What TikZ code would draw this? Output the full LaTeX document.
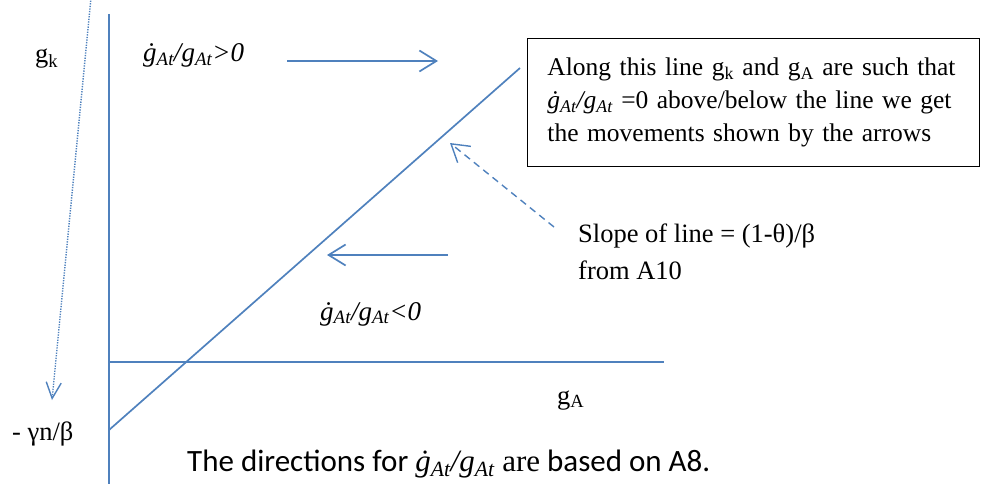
\documentclass[tikz,border=0pt]{standalone}
\usepackage{fontspec}
\setmainfont{Liberation Serif}
\newfontfamily\calibri{Carlito}
\usetikzlibrary{arrows.meta}
\definecolor{lineblue}{HTML}{4F81BD}
\newcommand{\gdot}{\textit{ġ\textsubscript{At}/g\textsubscript{At}}}
\tikzset{
	barb/.tip={Straight Barb[length=17pt, width=21pt]},
	small barb/.tip={Straight Barb[length=16pt, width=15pt]},
	blueline/.style={lineblue, line width=1.7pt},
	dashline/.style={lineblue, line width=1.4pt, dash pattern=on 7pt off 5pt},
	dotline/.style={lineblue, line width=1.4pt, dash pattern=on 1.3pt off 1.3pt},
	txt/.style={inner sep=0pt, anchor=base west, font=\fontsize{26.5}{37}\selectfont},
	ratio/.style={txt, font=\fontsize{27}{33}\selectfont\itshape}
}

\begin{document}
\begin{tikzpicture}[x=1pt, y=-1pt]
	\useasboundingbox (0,0) rectangle (981,484);
	% Axes
	\coordinate (ytop) at (109,14);
	\coordinate (ybot) at (109,484);
	\coordinate (xleft) at (109,362);
	\coordinate (xright) at (664,362);
	\draw[blueline] (ytop) -- (ybot);
	\draw[blueline] (xleft) -- (xright);
	
	% The line where the ratio is zero
	\coordinate (lstart) at (109,430);
	\coordinate (lend) at (520,68);
	\draw[blueline] (lstart) -- (lend);
	
	% Labels
	\node[txt] (gk) at (35,63) {g\textsubscript{k}};
	\node[txt] (gA) at (557,404) {g\textsubscript{A}};
	\node[txt] (intercept) at (12,440) {- γn/β};
	\node[ratio] (above) at (143,62) {\gdot>0};
	\node[ratio] (below) at (320,320) {\gdot<0};
	\node[txt, align=left] (slope) at (578,279) {Slope of line = (1-θ)/β\\from A10};
	\node[draw, line width=0.9pt, anchor=north west, minimum width=452pt, minimum height=128pt,
		text width=412pt, inner xsep=20pt, align=left, font=\fontsize{25.5}{33}\selectfont] (note) at (527,38)
		{Along this line g\textsubscript{k} and g\textsubscript{A} are such that \gdot{} =0 above/below the line we get the movements shown by the arrows};
	\node[txt, font=\fontsize{31}{34}\calibri] (remark) at (187,471)
		{The directions for {\rmfamily\gdot{} are} based on A8.};
	
	% Arrows
	\coordinate (up from) at (287,61);
	\coordinate (up to) at (438,61);
	\coordinate (down from) at (448,255);
	\coordinate (down to) at (327,255);
	\coordinate (slope from) at (554,227);
	\coordinate (slope to) at (450,143);
	\coordinate (fall from) at (91,-2);
	\coordinate (fall to) at (52,400);
	\draw[blueline, -barb] (up from) -- (up to);
	\draw[blueline, -barb] (down from) -- (down to);
	\draw[dashline, -barb] (slope from) -- (slope to);
	\draw[dotline, -small barb] (fall from) -- (fall to);
\end{tikzpicture}
\end{document}
